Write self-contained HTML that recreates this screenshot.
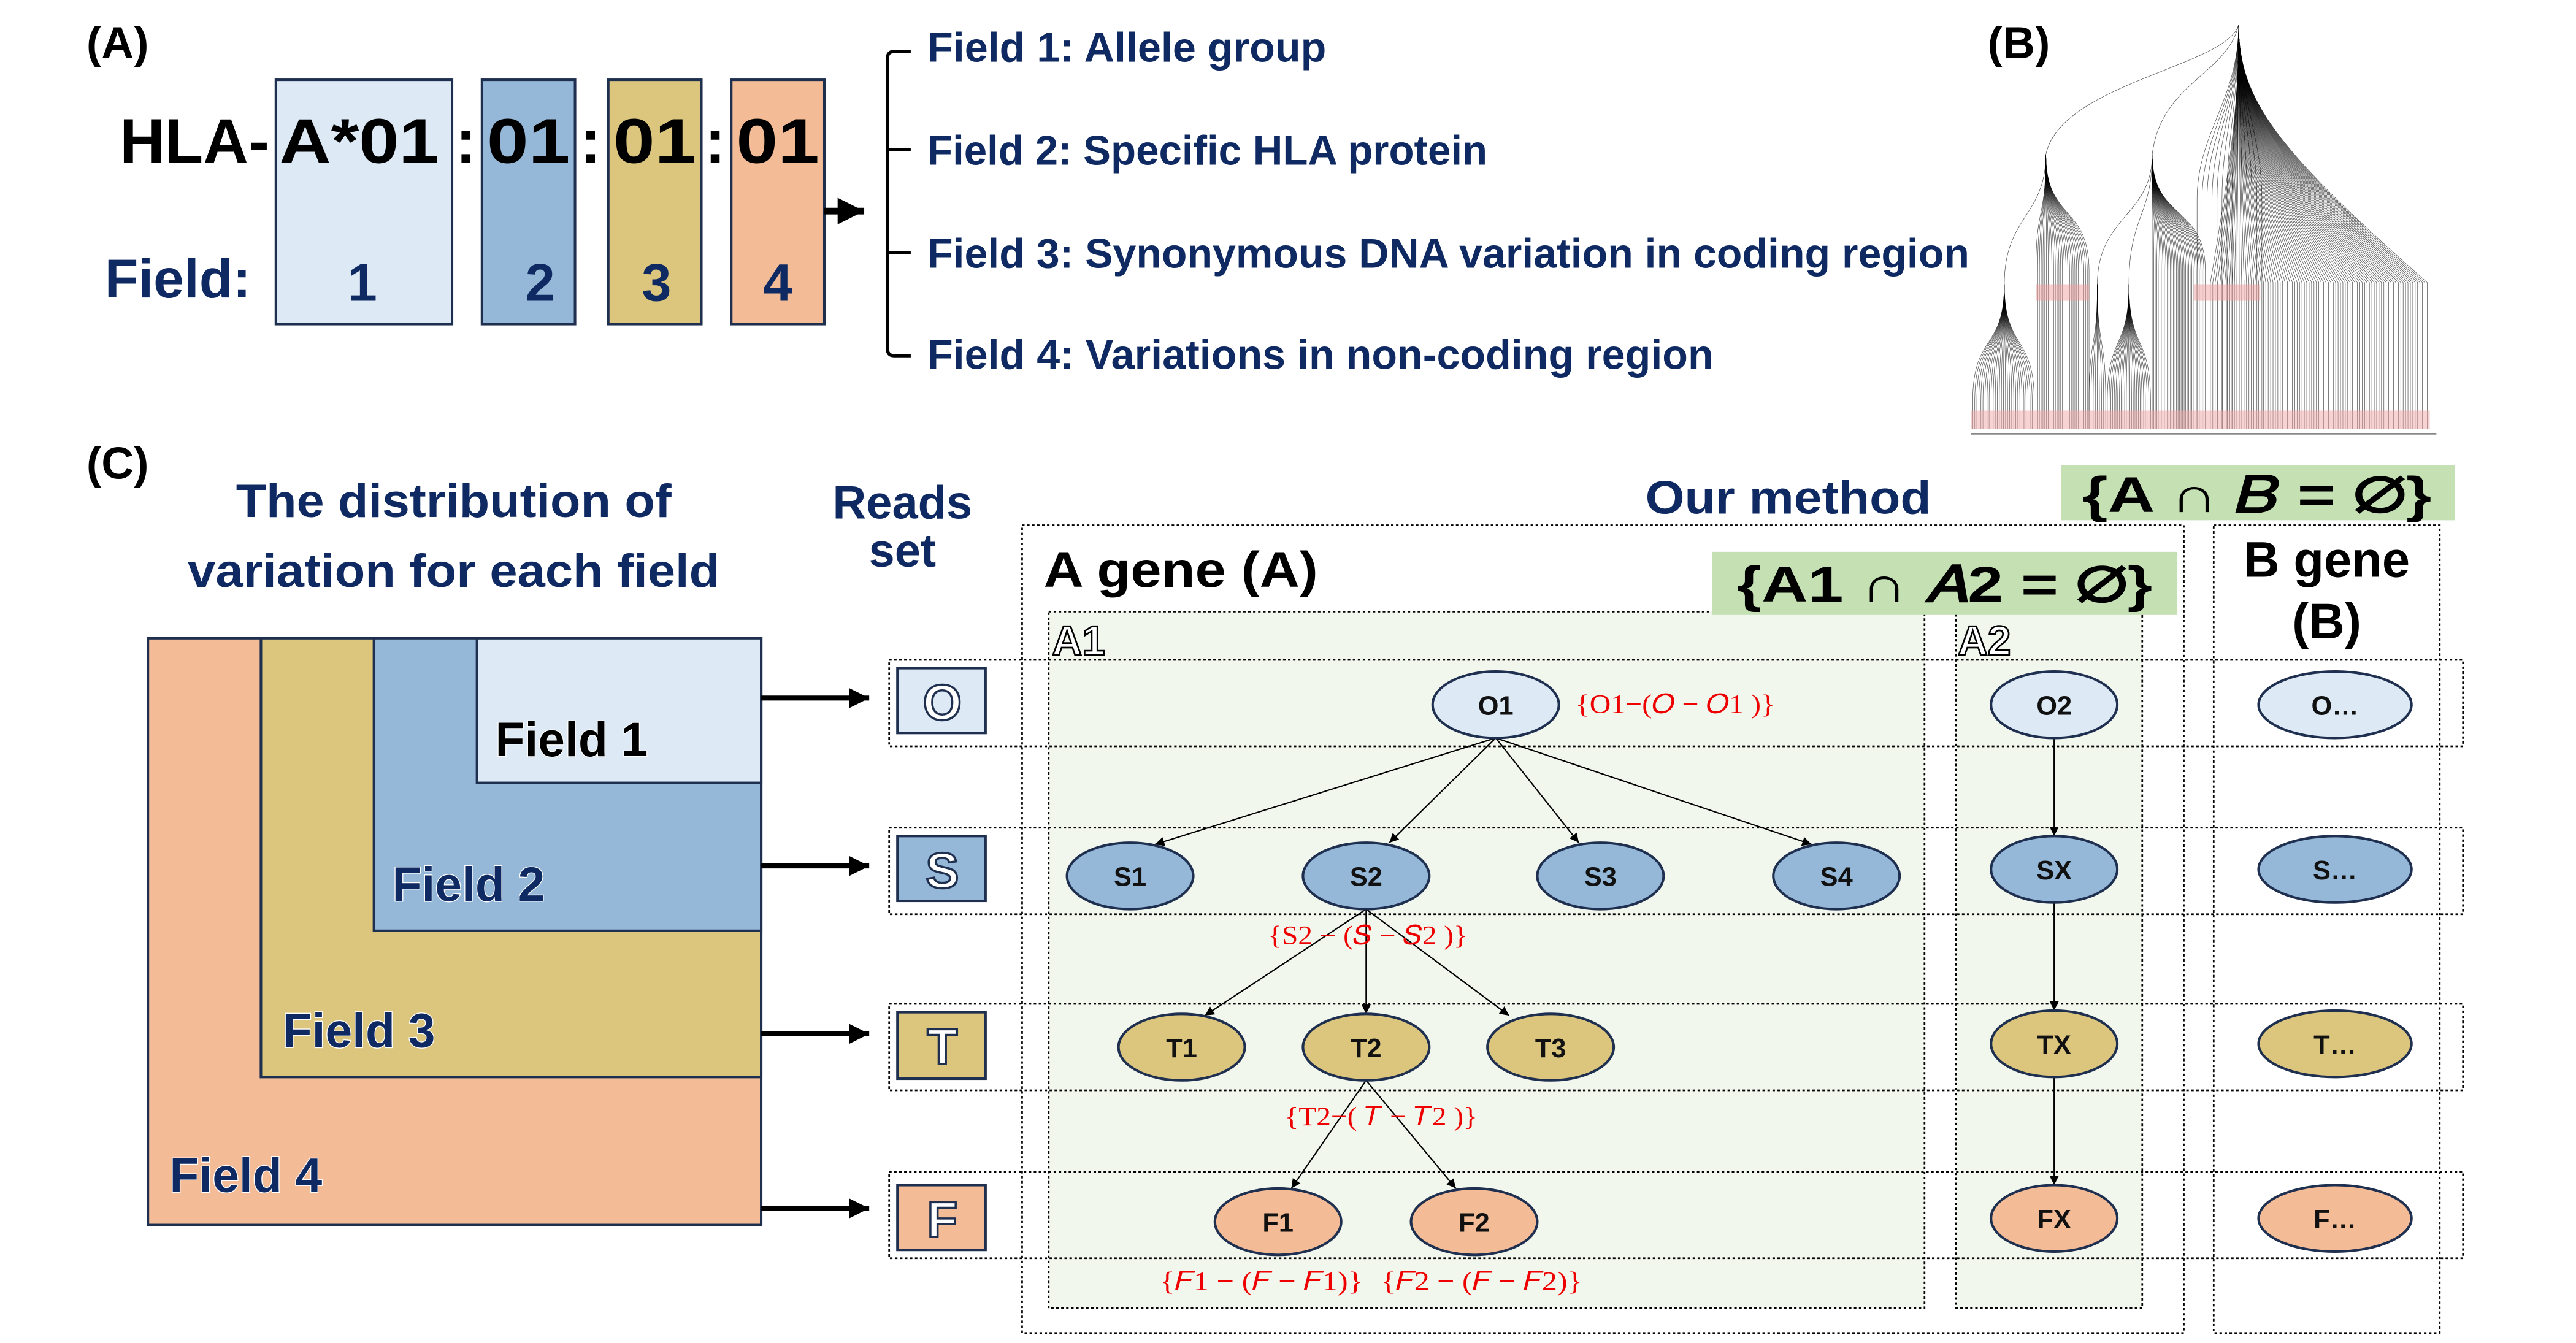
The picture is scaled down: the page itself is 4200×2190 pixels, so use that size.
<!DOCTYPE html>
<html><head><meta charset="utf-8"><style>
html,body{margin:0;padding:0;background:#fff;width:4200px;height:2190px;overflow:hidden}
svg{display:block}
text{font-family:"Liberation Sans",sans-serif;font-weight:bold}
.nv{fill:#0f2a62}
.nd{font-size:16px;fill:#111;text-anchor:middle;font-weight:bold}
.rd{font-size:16px;fill:#e00;font-family:"Liberation Serif",serif;font-weight:normal}
</style></head><body>
<svg width="4200" height="2190" viewBox="0 0 1550 808" preserveAspectRatio="none" xmlns="http://www.w3.org/2000/svg">
<defs>
<marker id="ah" viewBox="0 0 10 10" refX="10" refY="5" markerWidth="7" markerHeight="7" orient="auto"><path d="M0,0L10,5L0,10z" fill="#000"/></marker>
<marker id="ab" viewBox="0 0 10 10" refX="10" refY="5" markerWidth="4" markerHeight="4" orient="auto"><path d="M0,0L10,5L0,10z" fill="#000"/></marker>
</defs>
<!-- (A) -->
<text x="52" y="35" font-size="27" fill="#000">(A)</text>
<rect x="166" y="48" width="106" height="147" fill="#dde9f5" stroke="#1f2f4f" stroke-width="1.5"/>
<rect x="290" y="48" width="56" height="147" fill="#95b8d8" stroke="#1f2f4f" stroke-width="1.5"/>
<rect x="366" y="48" width="56" height="147" fill="#dcc67e" stroke="#1f2f4f" stroke-width="1.5"/>
<rect x="440" y="48" width="56" height="147" fill="#f3bc96" stroke="#1f2f4f" stroke-width="1.5"/>
<text x="72" y="98" font-size="38" fill="#000" textLength="90" lengthAdjust="spacingAndGlyphs">HLA-</text>
<text x="168" y="98" font-size="38" fill="#000" textLength="96" lengthAdjust="spacingAndGlyphs">A*01</text>
<text x="274" y="98" font-size="38" fill="#000">:</text>
<text x="293" y="98" font-size="38" fill="#000" textLength="50" lengthAdjust="spacingAndGlyphs">01</text>
<text x="349" y="98" font-size="38" fill="#000">:</text>
<text x="369" y="98" font-size="38" fill="#000" textLength="50" lengthAdjust="spacingAndGlyphs">01</text>
<text x="424" y="98" font-size="38" fill="#000">:</text>
<text x="443" y="98" font-size="38" fill="#000" textLength="50" lengthAdjust="spacingAndGlyphs">01</text>
<text x="63" y="179" font-size="33" class="nv" textLength="88" lengthAdjust="spacingAndGlyphs">Field:</text>
<text x="218" y="181" font-size="32" class="nv" text-anchor="middle">1</text>
<text x="325" y="181" font-size="32" class="nv" text-anchor="middle">2</text>
<text x="395" y="181" font-size="32" class="nv" text-anchor="middle">3</text>
<text x="468" y="181" font-size="32" class="nv" text-anchor="middle">4</text>
<line x1="496" y1="127" x2="520" y2="127" stroke="#000" stroke-width="4" marker-end="url(#ab)"/>
<path d="M548,31H538Q534,31 534,35V210Q534,214 538,214H548 M534,90H548 M534,152H548" fill="none" stroke="#000" stroke-width="2"/>
<text x="558" y="37" font-size="25" class="nv" textLength="240" lengthAdjust="spacingAndGlyphs">Field 1: Allele group</text>
<text x="558" y="99" font-size="25" class="nv" textLength="337" lengthAdjust="spacingAndGlyphs">Field 2: Specific HLA protein</text>
<text x="558" y="161" font-size="25" class="nv" textLength="627" lengthAdjust="spacingAndGlyphs">Field 3: Synonymous DNA variation in coding region</text>
<text x="558" y="222" font-size="25" class="nv" textLength="473" lengthAdjust="spacingAndGlyphs">Field 4: Variations in non-coding region</text>
<!-- (B) -->
<text x="1196" y="35" font-size="27" fill="#000">(B)</text>
<g id="tree" fill="none" stroke="#000" stroke-width="0.25" stroke-opacity="0.75"></g>
<rect x="1225" y="171" width="32" height="10" fill="#f0a0a0" opacity="0.5"/>
<rect x="1320" y="171" width="40" height="10" fill="#f0a0a0" opacity="0.5"/>
<rect x="1186" y="247" width="276" height="11" fill="#f0a8a8" opacity="0.5"/>
<line x1="1186" y1="261" x2="1466" y2="261" stroke="#888" stroke-width="1"/>
<!-- (C) -->
<text x="52" y="288" font-size="27" fill="#000">(C)</text>
<text x="273" y="311" font-size="28" class="nv" text-anchor="middle" textLength="262" lengthAdjust="spacingAndGlyphs">The distribution of</text>
<text x="273" y="353" font-size="28" class="nv" text-anchor="middle" textLength="320" lengthAdjust="spacingAndGlyphs">variation for each field</text>
<text x="543" y="312" font-size="28" class="nv" text-anchor="middle">Reads</text>
<text x="543" y="341" font-size="28" class="nv" text-anchor="middle">set</text>
<rect x="89" y="384" width="369" height="353" fill="#f3bc96" stroke="#1f2f4f" stroke-width="1.5"/>
<rect x="157" y="384" width="301" height="264" fill="#dcc67e" stroke="#1f2f4f" stroke-width="1.5"/>
<rect x="225" y="384" width="233" height="176" fill="#95b8d8" stroke="#1f2f4f" stroke-width="1.5"/>
<rect x="287" y="384" width="171" height="87" fill="#dde9f5" stroke="#1f2f4f" stroke-width="1.5"/>
<g font-size="29" fill="#0f2a62" stroke="#fff" stroke-width="1" paint-order="stroke">
<text x="298" y="455" fill="#000">Field 1</text>
<text x="236" y="542">Field 2</text>
<text x="170" y="630">Field 3</text>
<text x="102" y="717">Field 4</text>
</g>
<g stroke="#000" stroke-width="3">
<line x1="458" y1="420" x2="523" y2="420" marker-end="url(#ab)"/>
<line x1="458" y1="521" x2="523" y2="521" marker-end="url(#ab)"/>
<line x1="458" y1="622" x2="523" y2="622" marker-end="url(#ab)"/>
<line x1="458" y1="727" x2="523" y2="727" marker-end="url(#ab)"/>
</g>
<rect x="615" y="316" width="699" height="486" fill="none" stroke="#000" stroke-width="1" stroke-dasharray="1.5,1.5"/>
<rect x="1332" y="316" width="136" height="486" fill="none" stroke="#000" stroke-width="1" stroke-dasharray="1.5,1.5"/>
<rect x="631" y="368" width="527" height="419" fill="#f2f7ee" stroke="#000" stroke-width="1" stroke-dasharray="1.5,1.5"/>
<rect x="1177" y="368" width="112" height="419" fill="#f2f7ee" stroke="#000" stroke-width="1" stroke-dasharray="1.5,1.5"/>
<g fill="none" stroke="#000" stroke-width="1" stroke-dasharray="1.5,1.5">
<rect x="535" y="397" width="947" height="52"/>
<rect x="535" y="498" width="947" height="52"/>
<rect x="535" y="604" width="947" height="52"/>
<rect x="535" y="705" width="947" height="52"/>
</g>
<g stroke="#1f2f4f" stroke-width="1.5">
<rect x="540" y="402" width="53" height="39" fill="#dde9f5"/>
<rect x="540" y="503" width="53" height="39" fill="#95b8d8"/>
<rect x="540" y="609" width="53" height="40" fill="#dcc67e"/>
<rect x="540" y="713" width="53" height="39" fill="#f3bc96"/>
</g>
<g font-size="30" fill="#fff" stroke="#1f2f4f" stroke-width="1.3" text-anchor="middle" font-weight="normal">
<text x="567" y="433">O</text><text x="567" y="534">S</text><text x="567" y="640">T</text><text x="567" y="744">F</text>
</g>
<text x="990" y="309" font-size="28" class="nv" textLength="172" lengthAdjust="spacingAndGlyphs">Our method</text>
<rect x="1240" y="280" width="237" height="33" fill="#c5e0b3"/>
<text x="1358" y="308" font-size="30" fill="#000" text-anchor="middle" font-weight="normal" textLength="210" lengthAdjust="spacingAndGlyphs">{A ∩ 𝐵 = ∅}</text>
<text x="628" y="353" font-size="30" fill="#000" textLength="165" lengthAdjust="spacingAndGlyphs">A gene (A)</text>
<rect x="1030" y="332" width="280" height="38" fill="#c5e0b3"/>
<text x="1170" y="362" font-size="30" fill="#000" text-anchor="middle" font-weight="normal" textLength="250" lengthAdjust="spacingAndGlyphs">{A1 ∩ 𝐴2 = ∅}</text>
<text x="1400" y="347" font-size="30" fill="#000" text-anchor="middle">B gene</text>
<text x="1400" y="384" font-size="30" fill="#000" text-anchor="middle" font-weight="normal">(B)</text>
<text x="633" y="394" font-size="25" fill="#fff" stroke="#000" stroke-width="1" font-weight="normal">A1</text>
<text x="1178" y="394" font-size="25" fill="#fff" stroke="#000" stroke-width="1" font-weight="normal">A2</text>
<g stroke="#000" stroke-width="0.8" marker-end="url(#ah)">
<line x1="900" y1="444" x2="695" y2="508"/><line x1="900" y1="444" x2="836" y2="507"/>
<line x1="900" y1="444" x2="950" y2="507"/><line x1="900" y1="444" x2="1090" y2="508"/>
<line x1="822" y1="547" x2="725" y2="611"/><line x1="822" y1="547" x2="822" y2="610"/><line x1="822" y1="547" x2="908" y2="611"/>
<line x1="822" y1="650" x2="777" y2="715"/><line x1="822" y1="650" x2="876" y2="715"/>
<line x1="1236" y1="444" x2="1236" y2="503"/><line x1="1236" y1="543" x2="1236" y2="608"/><line x1="1236" y1="648" x2="1236" y2="713"/>
</g>
<g stroke="#1f2f4f" stroke-width="1.5">
<ellipse cx="900" cy="424" rx="38" ry="20" fill="#dde9f5"/>
<ellipse cx="1236" cy="424" rx="38" ry="20" fill="#dde9f5"/>
<ellipse cx="1405" cy="424" rx="46" ry="20" fill="#dde9f5"/>
<ellipse cx="680" cy="527" rx="38" ry="20" fill="#95b8d8"/>
<ellipse cx="822" cy="527" rx="38" ry="20" fill="#95b8d8"/>
<ellipse cx="963" cy="527" rx="38" ry="20" fill="#95b8d8"/>
<ellipse cx="1105" cy="527" rx="38" ry="20" fill="#95b8d8"/>
<ellipse cx="1236" cy="523" rx="38" ry="20" fill="#95b8d8"/>
<ellipse cx="1405" cy="523" rx="46" ry="20" fill="#95b8d8"/>
<ellipse cx="711" cy="630" rx="38" ry="20" fill="#dcc67e"/>
<ellipse cx="822" cy="630" rx="38" ry="20" fill="#dcc67e"/>
<ellipse cx="933" cy="630" rx="38" ry="20" fill="#dcc67e"/>
<ellipse cx="1236" cy="628" rx="38" ry="20" fill="#dcc67e"/>
<ellipse cx="1405" cy="628" rx="46" ry="20" fill="#dcc67e"/>
<ellipse cx="769" cy="735" rx="38" ry="20" fill="#f3bc96"/>
<ellipse cx="887" cy="735" rx="38" ry="20" fill="#f3bc96"/>
<ellipse cx="1236" cy="733" rx="38" ry="20" fill="#f3bc96"/>
<ellipse cx="1405" cy="733" rx="46" ry="20" fill="#f3bc96"/>
</g>
<g>
<text x="900" y="430" class="nd">O1</text><text x="1236" y="430" class="nd">O2</text><text x="1405" y="430" class="nd">O…</text>
<text x="680" y="533" class="nd">S1</text><text x="822" y="533" class="nd">S2</text><text x="963" y="533" class="nd">S3</text><text x="1105" y="533" class="nd">S4</text><text x="1236" y="529" class="nd">SX</text><text x="1405" y="529" class="nd">S…</text>
<text x="711" y="636" class="nd">T1</text><text x="822" y="636" class="nd">T2</text><text x="933" y="636" class="nd">T3</text><text x="1236" y="634" class="nd">TX</text><text x="1405" y="634" class="nd">T…</text>
<text x="769" y="741" class="nd">F1</text><text x="887" y="741" class="nd">F2</text><text x="1236" y="739" class="nd">FX</text><text x="1405" y="739" class="nd">F…</text>
</g>
<text x="948" y="429" class="rd" textLength="120" lengthAdjust="spacingAndGlyphs">{O1−(𝑂 − 𝑂1 )}</text>
<text x="763" y="568" class="rd" textLength="120" lengthAdjust="spacingAndGlyphs">{S2 − (𝑆 − 𝑆2 )}</text>
<text x="773" y="677" class="rd" textLength="116" lengthAdjust="spacingAndGlyphs">{T2−( 𝑇 − 𝑇2 )}</text>
<text x="698" y="776" class="rd" textLength="122" lengthAdjust="spacingAndGlyphs">{𝐹1 − (𝐹 − 𝐹1)}</text>
<text x="831" y="776" class="rd" textLength="121" lengthAdjust="spacingAndGlyphs">{𝐹2 − (𝐹 − 𝐹2)}</text>
</svg>
<script>
(function(){
var g=document.getElementById('tree'),s='';
function P(d){s+='<path d="'+d+'"/>';}
for(var i=0;i<=90;i++){var x=1330+i*1.45;P('M1347,15C1347,60 '+(1347+(x-1347)*0.2)+',90 '+x+',170L'+x+',258');}
P('M1347,15C1340,40 1240,50 1231,93');
P('M1347,15C1340,45 1300,50 1295,93');
function bell(ax,ay,x0,x1,n){for(var i=0;i<=n;i++){var x=x0+(x1-x0)*i/n;P('M'+ax+','+ay+'C'+ax+','+(ay+40)+' '+x+','+(ay+30)+' '+x+','+(ay+70)+'L'+x+',258');}}
bell(1231,93,1225,1257,30);
bell(1295,93,1295,1327,35);
P('M1231,93C1231,130 1206,130 1206,171');
P('M1295,93C1295,130 1262,130 1262,171');
P('M1295,93C1295,130 1281,130 1281,171');
bell(1206,171,1187,1224,30);
bell(1262,171,1257,1267,8);
bell(1281,171,1268,1294,25);
for(var j=0;j<14;j++){var x=1322+j*3;P('M1347,15C1347,60 '+x+',80 '+x+',120L'+x+',258');}
g.innerHTML=s;
})();
</script>
</body></html>
